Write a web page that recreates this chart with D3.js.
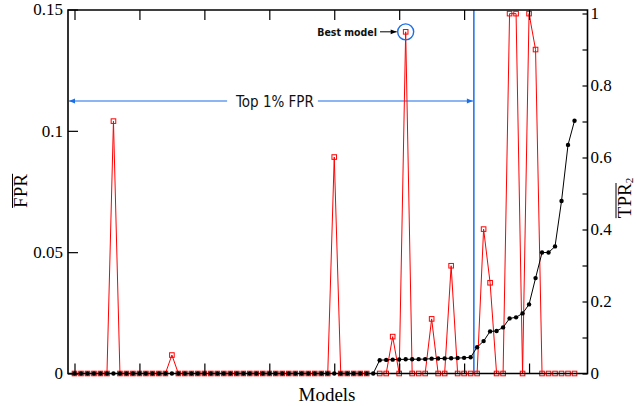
<!DOCTYPE html>
<html>
<head>
<meta charset="utf-8">
<script src="https://cdn.jsdelivr.net/npm/d3@7"></script>
<style>
  html, body { margin: 0; padding: 0; background: #fff; }
  svg { display: block; }
</style>
</head>
<body>
<svg id="chart" width="637" height="406"></svg>
<script>
// Model index (x), one entry per trained model, sorted by mean TPR2
const models = [
   0,  1,  2,  3,  4,  5,  6,  7,  8,  9,
  10, 11, 12, 13, 14, 15, 16, 17, 18, 19,
  20, 21, 22, 23, 24, 25, 26, 27, 28, 29,
  30, 31, 32, 33, 34, 35, 36, 37, 38, 39,
  40, 41, 42, 43, 44, 45, 46, 47, 48, 49,
  50, 51, 52, 53, 54, 55, 56, 57, 58, 59,
  60, 61, 62, 63, 64, 65, 66, 67, 68, 69,
  70, 71, 72, 73, 74, 75, 76, 77
];

// Mean false positive rate per model (left axis); null = not evaluated
const fprMean = [
  0, 0, 0, 0, 0, 0, 0.104, 0, 0, 0,
  0, 0, 0, 0, 0, 0.0076, 0, 0, 0, 0,
  0, 0, 0, 0, 0, 0, 0, 0, 0, 0,
  0, 0, 0, 0, 0, 0, 0, 0, 0, 0,
  0.0892, 0, 0, 0, 0, 0, null, 0, 0, 0.0152,
  0, 0.1408, 0, 0, 0, 0.0225, 0, 0, 0.0444, 0,
  0, 0, 0, 0.0595, 0.0374, 0, 0, 0.1483, 0.1483, 0,
  0.1483, 0.1335, 0, 0, 0, 0, 0, 0
];

// Mean true positive rate (TPR2) per model (right axis)
const tprMean = [
  0, 0, 0, 0, 0, 0, 0, 0, 0, 0,
  0, 0, 0, 0, 0, 0, 0, 0, 0, 0,
  0, 0, 0, 0, 0, 0, 0, 0, 0, 0,
  0, 0, 0, 0, 0, 0, 0, 0, 0, 0,
  0, 0, 0, 0, 0, 0, 0, 0.037, 0.0378, 0.0385,
  0.039, 0.0394, 0.0396, 0.0398, 0.040, 0.0412, 0.0415, 0.042, 0.0425, 0.043,
  0.0435, 0.045, 0.073, 0.090, 0.117, 0.118, 0.128, 0.153, 0.156, 0.167,
  0.192, 0.265, 0.336, 0.336, 0.353, 0.479, 0.635, 0.702
];

// Axis ticks
const modelTicks = [0, 10, 20, 30, 40, 50, 60, 70];
const fprTicks = [0, 0.05, 0.1, 0.15];
const fprTickLabels = ["0", "0.05", "0.1", "0.15"];
const tprTicks = [0, 0.2, 0.4, 0.6, 0.8, 1];
const tprTickLabels = ["0", "0.2", "0.4", "0.6", "0.8", "1"];
const tprMinorTicks = [0.1, 0.3, 0.5, 0.7, 0.9];

// Annotations
const topFprBoundary = 61.5;   // last model inside the top 1% FPR band, plus half a step
const bestModel = 51;
const topFprText = "Top 1% FPR";
const bestModelText = "Best model";

const serif = "Liberation Serif, Times New Roman, serif";
const sans = "DejaVu Sans Condensed, DejaVu Sans, sans-serif";

const svg = d3.select("#chart");
const L = 68, R = 587.5, T = 10, B = 373.5;

const x = d3.scaleLinear().domain([-1, 79]).range([L, R]);
const y = d3.scaleLinear().domain([0, 0.15]).range([B, 9.5]);
const y2 = d3.scaleLinear().domain([0, 1]).range([B, 13.5]);

const red = "#ff0000";
const blue = "#1a6ee8";

// ---- blue annotation: vertical boundary + double arrow ----
const defs = svg.append("defs");
defs.append("marker").attr("id", "bhead").attr("viewBox", "0 0 10 10")
  .attr("refX", 10).attr("refY", 5).attr("markerWidth", 7).attr("markerHeight", 6)
  .attr("markerUnits", "userSpaceOnUse").attr("orient", "auto")
  .append("path").attr("d", "M0,1 L10,5 L0,9 Z").attr("fill", blue);
defs.append("marker").attr("id", "khead").attr("viewBox", "0 0 10 10")
  .attr("refX", 10).attr("refY", 5).attr("markerWidth", 7).attr("markerHeight", 6)
  .attr("markerUnits", "userSpaceOnUse").attr("orient", "auto")
  .append("path").attr("d", "M0,1 L10,5 L0,9 Z").attr("fill", "#000");

const xb = x(topFprBoundary);
svg.append("line").attr("x1", xb).attr("x2", xb).attr("y1", T).attr("y2", B)
  .attr("stroke", blue).attr("stroke-width", 1.5);

const arrowY = 101;
const topText = svg.append("text").attr("x", 275).attr("y", arrowY + 5.5)
  .attr("text-anchor", "middle").style("font-family", sans)
  .style("font-size", "15px").attr("fill", "#111").text(topFprText);
const tb = topText.node().getBBox();
svg.append("line").attr("x1", tb.x - 8).attr("x2", L + 1).attr("y1", arrowY).attr("y2", arrowY)
  .attr("stroke", blue).attr("stroke-width", 1.2).attr("marker-end", "url(#bhead)");
svg.append("line").attr("x1", tb.x + tb.width + 4).attr("x2", xb - 1).attr("y1", arrowY).attr("y2", arrowY)
  .attr("stroke", blue).attr("stroke-width", 1.2).attr("marker-end", "url(#bhead)");

// ---- FPR series (red, open squares) ----
const fprPts = models.map((m, i) => ({ m, v: fprMean[i] })).filter(d => d.v !== null);
const lineF = d3.line().x(d => x(d.m)).y(d => y(d.v));
svg.append("path").datum(fprPts).attr("d", lineF)
  .attr("fill", "none").attr("stroke", red).attr("stroke-width", 1);
const sq = 4.6;
svg.append("g").selectAll("rect").data(fprPts).join("rect")
  .attr("x", d => x(d.m) - sq / 2).attr("y", d => y(d.v) - sq / 2)
  .attr("width", sq).attr("height", sq)
  .attr("fill", "none").attr("stroke", red).attr("stroke-width", 1);

// ---- TPR2 series (black, filled dots) ----
const tprPts = models.map((m, i) => ({ m, v: tprMean[i] }));
const lineT = d3.line().x(d => x(d.m)).y(d => y2(d.v));
svg.append("path").datum(tprPts).attr("d", lineT)
  .attr("fill", "none").attr("stroke", "#000").attr("stroke-width", 1);
svg.append("g").selectAll("circle").data(tprPts).join("circle")
  .attr("cx", d => x(d.m)).attr("cy", d => y2(d.v)).attr("r", 2.2).attr("fill", "#000");

// ---- best model marker ----
const bx = x(bestModel), by = y(fprMean[bestModel]);
svg.append("circle").attr("cx", bx).attr("cy", by).attr("r", 8)
  .attr("fill", "none").attr("stroke", blue).attr("stroke-width", 1.4);
svg.append("text").attr("x", 377).attr("y", by + 3.8).attr("text-anchor", "end")
  .style("font-family", sans).style("font-weight", "bold")
  .style("font-size", "10.5px").attr("fill", "#111").text(bestModelText);
svg.append("line").attr("x1", 380).attr("x2", bx - 9).attr("y1", by).attr("y2", by)
  .attr("stroke", "#000").attr("stroke-width", 1).attr("marker-end", "url(#khead)");

// ---- axes ----
function styleAxis(g) {
  g.attr("font-family", serif).attr("font-size", 17);
  g.select(".domain").remove();
  g.selectAll(".tick line").attr("stroke", "#000").attr("stroke-width", 1.2);
  g.selectAll(".tick text").attr("fill", "#000")
    .style("font-family", serif).style("font-size", "17px");
}
svg.append("g").attr("transform", `translate(0,${B})`)
  .call(d3.axisBottom(x).tickValues(modelTicks).tickSize(-10).tickFormat(""))
  .call(styleAxis);
svg.append("g").attr("transform", `translate(0,${T})`)
  .call(d3.axisTop(x).tickValues(modelTicks).tickSize(-10).tickFormat(""))
  .call(styleAxis);
svg.append("g").attr("transform", `translate(${L},0)`)
  .call(d3.axisLeft(y).tickValues(fprTicks).tickSizeInner(-10).tickSizeOuter(0)
    .tickPadding(5).tickFormat((d, i) => fprTickLabels[i]))
  .call(styleAxis);
svg.append("g").attr("transform", `translate(${R},0)`)
  .call(d3.axisRight(y2).tickValues(tprTicks).tickSizeInner(-5).tickSizeOuter(0)
    .tickPadding(3).tickFormat((d, i) => tprTickLabels[i]))
  .call(styleAxis);
svg.append("g").attr("transform", `translate(${R},0)`)
  .call(d3.axisRight(y2).tickValues(tprMinorTicks).tickSizeInner(-5).tickSizeOuter(0).tickFormat(""))
  .call(styleAxis);

// frame
svg.append("path")
  .attr("d", `M${L},${T} H${R} V${B} H${L} Z`)
  .attr("fill", "none").attr("stroke", "#000").attr("stroke-width", 1.6);

// ---- axis titles ----
svg.append("text").attr("x", 327).attr("y", 401).attr("text-anchor", "middle")
  .style("font-family", serif).style("font-size", "19px").text("Models");

const fprTitle = svg.append("text")
  .attr("transform", "translate(27,191) rotate(-90)").attr("text-anchor", "middle")
  .style("font-family", serif).style("font-size", "19px").text("FPR");
const fb = fprTitle.node().getBBox();
svg.append("line").attr("transform", "translate(27,191) rotate(-90)")
  .attr("x1", fb.x).attr("x2", fb.x + fb.width).attr("y1", -14.5).attr("y2", -14.5)
  .attr("stroke", "#000").attr("stroke-width", 1);

const tprTitle = svg.append("text")
  .attr("transform", "translate(630.5,198) rotate(-90)").attr("text-anchor", "middle")
  .style("font-family", serif).style("font-size", "19px");
tprTitle.append("tspan").text("TPR");
tprTitle.append("tspan").style("font-size", "11px").attr("dy", 2.5).text("2");
const tpB = tprTitle.select("tspan").node().getBBox();
svg.append("line").attr("transform", "translate(630.5,198) rotate(-90)")
  .attr("x1", tpB.x).attr("x2", tpB.x + tpB.width).attr("y1", -14.5).attr("y2", -14.5)
  .attr("stroke", "#000").attr("stroke-width", 1);
</script>
</body>
</html>
